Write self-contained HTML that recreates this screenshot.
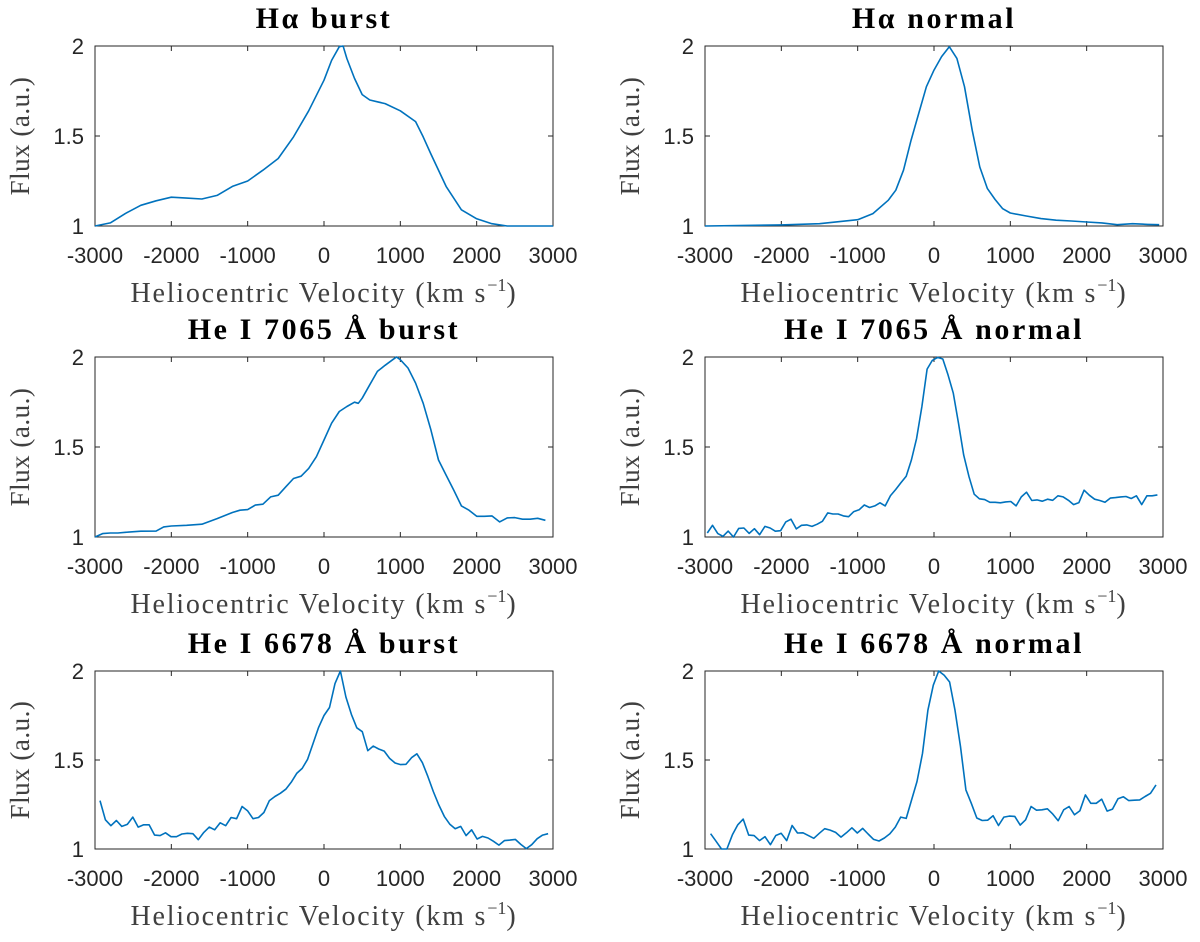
<!DOCTYPE html>
<html><head><meta charset="utf-8">
<style>
html,body{margin:0;padding:0;background:#fff;}
svg{display:block;}
.tt{font-family:"Liberation Serif",serif;font-weight:bold;font-size:30px;letter-spacing:2.6px;fill:#000;text-anchor:middle;}
.tk{font-family:"Liberation Sans",sans-serif;font-size:22px;fill:#262626;}
.lb{font-family:"Liberation Serif",serif;font-size:28px;letter-spacing:1.8px;fill:#404040;text-anchor:middle;}
.yl{font-family:"Liberation Serif",serif;font-size:27px;letter-spacing:0.5px;fill:#404040;text-anchor:middle;}
</style></head>
<body>
<svg id="fig" width="1200" height="942" viewBox="0 0 1200 942" xmlns="http://www.w3.org/2000/svg"></svg>
<script>
// ---- data ----
const xTicks = [-3000,-2000,-1000,0,1000,2000,3000];
const yTicks = [1,1.5,2];
const yTickLabels = ["1","1.5","2"];
const titles = ["H\u03B1 burst","H\u03B1 normal","He I 7065 \u00C5 burst","He I 7065 \u00C5 normal","He I 6678 \u00C5 burst","He I 6678 \u00C5 normal"];

const haBurstV = [-3000,-2800,-2600,-2400,-2200,-2000,-1800,-1600,-1400,-1200,-1000,-800,-600,-400,-200,0,100,200,250,300,400,500,600,700,800,1000,1200,1300,1400,1600,1800,2000,2200,2400,3000];
const haBurstF = [1.0,1.017,1.07,1.115,1.14,1.16,1.155,1.15,1.17,1.22,1.25,1.31,1.375,1.495,1.64,1.81,1.92,1.996,2.0,1.93,1.82,1.73,1.70,1.69,1.68,1.64,1.58,1.495,1.40,1.22,1.09,1.04,1.013,1.0,1.0];

const haNormV = [-3000,-2000,-1500,-1000,-800,-600,-500,-400,-300,-200,-100,0,100,200,300,400,500,600,700,800,900,1000,1200,1400,1600,1800,2000,2200,2400,2600,2800,2950];
const haNormF = [1.0,1.006,1.013,1.035,1.069,1.143,1.199,1.31,1.477,1.625,1.774,1.866,1.941,1.996,1.931,1.774,1.532,1.328,1.208,1.147,1.096,1.072,1.056,1.041,1.032,1.028,1.022,1.017,1.007,1.013,1.009,1.007];

const he7065BurstV = [-3000,-2900,-2800,-2700,-2600,-2400,-2200,-2100,-2000,-1800,-1600,-1400,-1200,-1100,-1000,-900,-800,-700,-600,-500,-400,-300,-200,-100,0,100,200,300,400,450,500,600,700,800,900,950,1000,1100,1200,1300,1400,1500,1600,1700,1800,1900,2000,2100,2200,2300,2400,2500,2600,2700,2800,2900];
const he7065BurstF = [1.0,1.019,1.022,1.022,1.026,1.032,1.033,1.056,1.061,1.065,1.071,1.102,1.136,1.149,1.152,1.177,1.182,1.223,1.232,1.279,1.325,1.338,1.381,1.446,1.539,1.632,1.697,1.725,1.749,1.743,1.771,1.846,1.92,1.954,1.985,2.0,1.985,1.939,1.855,1.743,1.595,1.428,1.344,1.26,1.173,1.149,1.115,1.115,1.117,1.084,1.106,1.108,1.099,1.099,1.104,1.093];

const he7065NormStart = -2970, he7065NormEnd = 2926;
const he7065NormF = [1.022,1.065,1.019,1.004,1.033,1.0,1.048,1.05,1.02,1.046,1.013,1.059,1.05,1.032,1.035,1.084,1.099,1.045,1.065,1.067,1.059,1.071,1.087,1.134,1.128,1.128,1.117,1.113,1.141,1.151,1.178,1.164,1.173,1.19,1.173,1.23,1.264,1.301,1.338,1.428,1.548,1.725,1.933,1.981,1.998,1.989,1.901,1.799,1.632,1.455,1.335,1.238,1.212,1.208,1.193,1.193,1.19,1.195,1.197,1.173,1.223,1.249,1.203,1.206,1.199,1.21,1.204,1.229,1.223,1.204,1.18,1.191,1.26,1.232,1.21,1.203,1.193,1.216,1.219,1.223,1.225,1.214,1.229,1.18,1.229,1.229,1.234];

const he6678BurstStart = -2935, he6678BurstEnd = 2936;
const he6678BurstF = [1.272,1.164,1.131,1.16,1.127,1.138,1.179,1.123,1.136,1.136,1.078,1.075,1.091,1.069,1.069,1.084,1.088,1.086,1.052,1.093,1.123,1.108,1.147,1.131,1.177,1.17,1.239,1.215,1.17,1.177,1.205,1.272,1.295,1.313,1.336,1.375,1.425,1.453,1.504,1.593,1.683,1.75,1.795,1.929,2.0,1.854,1.756,1.681,1.659,1.552,1.578,1.562,1.55,1.509,1.483,1.474,1.476,1.513,1.535,1.485,1.407,1.323,1.248,1.183,1.14,1.114,1.127,1.075,1.108,1.056,1.071,1.062,1.043,1.022,1.047,1.05,1.054,1.026,1.002,1.024,1.058,1.078,1.086];

const he6678NormStart = -2926, he6678NormEnd = 2908;
const he6678NormF = [1.086,1.043,1.0,1.0,1.08,1.136,1.168,1.078,1.075,1.047,1.069,1.024,1.076,1.088,1.047,1.132,1.09,1.091,1.075,1.06,1.088,1.114,1.106,1.093,1.067,1.091,1.119,1.09,1.116,1.084,1.054,1.045,1.062,1.086,1.123,1.179,1.172,1.276,1.379,1.537,1.78,1.92,2.0,1.976,1.938,1.78,1.575,1.332,1.257,1.174,1.16,1.162,1.187,1.132,1.179,1.185,1.183,1.134,1.164,1.239,1.218,1.22,1.226,1.196,1.159,1.22,1.239,1.192,1.215,1.304,1.257,1.257,1.28,1.213,1.224,1.282,1.293,1.272,1.274,1.276,1.295,1.313,1.36];

function grid(a,b,n){const o=[];for(let i=0;i<n;i++)o.push(a+(b-a)*i/(n-1));return o;}

const series = [
  [haBurstV, haBurstF],
  [haNormV, haNormF],
  [he7065BurstV, he7065BurstF],
  [grid(he7065NormStart,he7065NormEnd,he7065NormF.length), he7065NormF],
  [grid(he6678BurstStart,he6678BurstEnd,he6678BurstF.length), he6678BurstF],
  [grid(he6678NormStart,he6678NormEnd,he6678NormF.length), he6678NormF]
];

// ---- layout ----
const cols = [[95,553],[705,1163]];
const rows = [[46,226],[357,537],[671,849]];
const NS = "http://www.w3.org/2000/svg";
const svg = document.getElementById('fig');
function mk(tag, attrs, parent){const e=document.createElementNS(NS,tag);for(const k in attrs)e.setAttribute(k,attrs[k]);(parent||svg).appendChild(e);return e;}

const slug = ["ha-burst","ha-normal","he7065-burst","he7065-normal","he6678-burst","he6678-normal"];
for(let p=0;p<6;p++){
  const [x0,x1]=cols[p%2], [y0,y1]=rows[Math.floor(p/2)];
  const xs=v=>x0+(v+3000)/6000*(x1-x0);
  const ys=f=>y1-(f-1)*(y1-y0);
  const g=mk('g',{});
  
  
  const box=mk('rect',{x:x0,y:y0,width:x1-x0,height:y1-y0,fill:'#fff',stroke:'#262626','stroke-width':1},g);
  
  
  xTicks.forEach(t=>{
    const x=xs(t);
    mk('line',{x1:x,x2:x,y1:y1,y2:y1-5,stroke:'#262626'},g);
    mk('line',{x1:x,x2:x,y1:y0,y2:y0+5,stroke:'#262626'},g);
    const tl=mk('text',{x:x,y:y1+37,'class':'tk','text-anchor':'middle'},g);
    tl.textContent=String(t);
    
    
  });
  yTicks.forEach((t,i)=>{
    const y=ys(t);
    mk('line',{x1:x0,x2:x0+5,y1:y,y2:y,stroke:'#262626'},g);
    mk('line',{x1:x1,x2:x1-5,y1:y,y2:y,stroke:'#262626'},g);
    const tl=mk('text',{x:x0-11,y:y+8,'class':'tk','text-anchor':'end'},g);
    tl.textContent=yTickLabels[i];
    
    
  });
  const [V,F]=series[p];
  const d=V.map((v,i)=>(i?'L':'M')+xs(v).toFixed(1)+','+ys(F[i]).toFixed(1)).join('');
  const path=mk('path',{d:d,fill:'none',stroke:'#0072BD','stroke-width':1.6,'stroke-linejoin':'round'},g);
  
  
  const tt=mk('text',{x:(x0+x1)/2,y:y0-18,'class':'tt'},g);
  tt.textContent=titles[p];
  
  
  const xl=mk('text',{x:(x0+x1)/2,y:y1+76,'class':'lb'},g);
  xl.innerHTML='Heliocentric Velocity (km s<tspan dy="-11" font-size="18" letter-spacing="0">\u22121</tspan><tspan dy="11">)</tspan>';
  
  
  const yl=mk('text',{x:0,y:0,'class':'yl',transform:`translate(${x0-66},${(y0+y1)/2}) rotate(-90)`},g);
  yl.textContent='Flux (a.u.)';
  
  
}
</script>
</body></html>
